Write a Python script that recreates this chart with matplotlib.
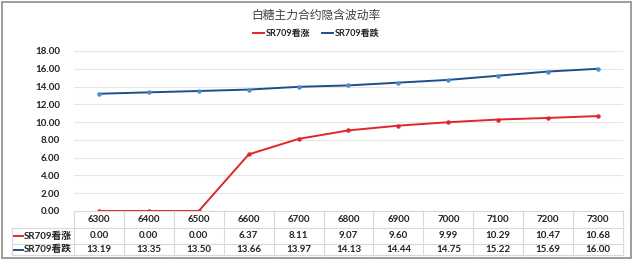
import matplotlib
matplotlib.use("Agg")
import matplotlib.pyplot as plt
from matplotlib.lines import Line2D
from matplotlib.patches import Rectangle

plt.rcParams['font.family'] = ['Lato', 'Noto Sans CJK SC', 'DejaVu Sans']

title = "白糖主力合约隐含波动率"
strikes = ["6300", "6400", "6500", "6600", "6700", "6800", "6900", "7000", "7100", "7200", "7300"]
call_name = "SR709看涨"
put_name = "SR709看跌"
call_vals = [0.00, 0.00, 0.00, 6.37, 8.11, 9.07, 9.60, 9.99, 10.29, 10.47, 10.68]
put_vals = [13.19, 13.35, 13.50, 13.66, 13.97, 14.13, 14.44, 14.75, 15.22, 15.69, 16.00]
yticks = [0, 2, 4, 6, 8, 10, 12, 14, 16, 18]

W, H = 634, 261
fig = plt.figure(figsize=(W / 100, H / 100), dpi=100)

def fx(px):
    return px / W

def fy(py):
    return 1 - py / H

# outer border
fig.patches.append(Rectangle((fx(2), fy(258)), fx(629), 256 / H, transform=fig.transFigure,
                             fill=False, edgecolor='#8c8c8c', linewidth=1.2))

ax_l, ax_r, ax_t, ax_b = 74, 623, 51, 211
ax = fig.add_axes([fx(ax_l), fy(ax_b), fx(ax_r - ax_l), (ax_b - ax_t) / H])
x = list(range(len(strikes)))
red = '#E0262C'
blue = '#1F4E8C'
ax.plot(x, call_vals, color=red, lw=1.4, marker='o', ms=2.2, mfc=red, mec=red, zorder=3)
ax.plot(x, put_vals, color=blue, lw=1.4, marker='o', ms=2.2, mfc='#4A90C8', mec='#4A90C8', zorder=3)
ax.set_xlim(-0.5, len(strikes) - 0.5)
ax.set_ylim(0, 18)
ax.set_yticks(yticks)
ax.set_yticklabels([f"{v:.2f}" for v in yticks], fontsize=7, fontweight='bold', color='#222222')
ax.set_xticks([])
ax.grid(axis='y', color='#e6e6e6', lw=0.8)
ax.set_axisbelow(True)
for s in ax.spines.values():
    s.set_visible(False)
ax.tick_params(axis='y', length=0, pad=10)

# title and legend
fig.text(fx(316), fy(15), title, ha='center', va='center', fontsize=8.5, color='#404040',
         family=['Noto Sans CJK SC'])
lx = 253
fig.add_artist(Line2D([fx(lx), fx(lx + 11)], [fy(33), fy(33)], color=red, lw=1.4))
fig.text(fx(lx + 13), fy(33), call_name, ha='left', va='center', fontsize=6.5, fontweight='bold',
         color='#222222', family=['Lato', 'Noto Sans CJK SC'])
lx2 = 322
fig.add_artist(Line2D([fx(lx2), fx(lx2 + 11)], [fy(33), fy(33)], color=blue, lw=1.4))
fig.text(fx(lx2 + 13), fy(33), put_name, ha='left', va='center', fontsize=6.5, fontweight='bold',
         color='#222222', family=['Lato', 'Noto Sans CJK SC'])

# data table
gc = '#d9d9d9'
rows_y = [211, 228, 244, 258 - 3]
col_w = (ax_r - ax_l) / len(strikes)
lab_l = 12
fig.add_artist(Line2D([fx(ax_l), fx(ax_r)], [fy(rows_y[0]), fy(rows_y[0])], color=gc, lw=0.8))
for ry in rows_y[1:]:
    fig.add_artist(Line2D([fx(lab_l), fx(ax_r)], [fy(ry), fy(ry)], color=gc, lw=0.8))
for i in range(len(strikes) + 1):
    xx = ax_l + i * col_w
    fig.add_artist(Line2D([fx(xx), fx(xx)], [fy(rows_y[0]), fy(rows_y[-1])], color=gc, lw=0.8))
fig.add_artist(Line2D([fx(lab_l), fx(lab_l)], [fy(rows_y[1]), fy(rows_y[-1])], color=gc, lw=0.8))

fs = 7
for i, s in enumerate(strikes):
    cx = ax_l + (i + 0.5) * col_w
    fig.text(fx(cx), fy((rows_y[0] + rows_y[1]) / 2), s, ha='center', va='center',
             fontsize=fs, fontweight='bold', color='#222222')
    fig.text(fx(cx), fy((rows_y[1] + rows_y[2]) / 2), f"{call_vals[i]:.2f}", ha='center', va='center',
             fontsize=fs, fontweight='bold', color='#222222')
    fig.text(fx(cx), fy((rows_y[2] + rows_y[3]) / 2), f"{put_vals[i]:.2f}", ha='center', va='center',
             fontsize=fs, fontweight='bold', color='#222222')

for name, col, (r0, r1) in [(call_name, red, (rows_y[1], rows_y[2])), (put_name, blue, (rows_y[2], rows_y[3]))]:
    yc = (r0 + r1) / 2
    fig.add_artist(Line2D([fx(14), fx(23)], [fy(yc), fy(yc)], color=col, lw=1.4))
    fig.text(fx(24), fy(yc), name, ha='left', va='center', fontsize=fs, fontweight='bold',
             color='#222222', family=['Lato', 'Noto Sans CJK SC'])

fig.savefig("out.png", dpi=100)
